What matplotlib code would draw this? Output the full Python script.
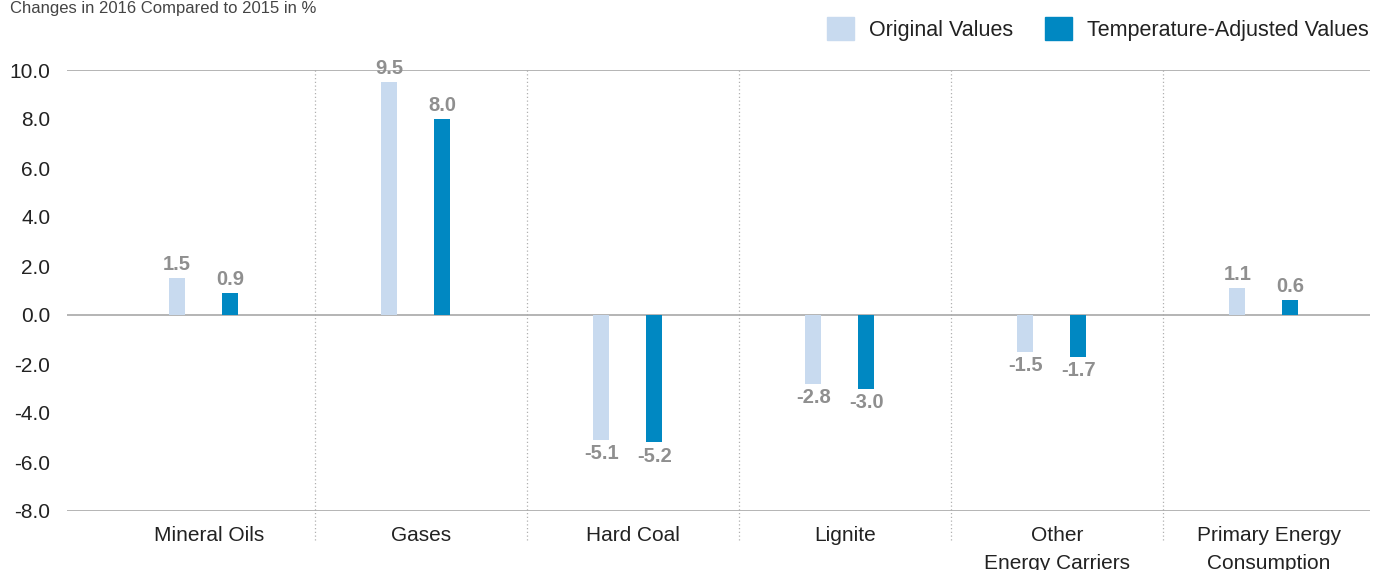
import matplotlib
matplotlib.use("Agg")
import matplotlib.pyplot as plt
import numpy as np

plt.rcParams['font.family'] = ['Liberation Sans', 'DejaVu Sans']

categories = ["Mineral Oils", "Gases", "Hard Coal", "Lignite",
              "Other\nEnergy Carriers", "Primary Energy\nConsumption"]
original_values = [1.5, 9.5, -5.1, -2.8, -1.5, 1.1]
adjusted_values = [0.9, 8.0, -5.2, -3.0, -1.7, 0.6]
series_names = ["Original Values", "Temperature-Adjusted Values"]
y_ticks = [10.0, 8.0, 6.0, 4.0, 2.0, 0.0, -2.0, -4.0, -6.0, -8.0]
title = "Changes in 2016 Compared to 2015 in %"

light_blue = "#c8daef"
dark_blue = "#0088c2"
label_grey = "#8f8f8f"
text_col = "#222222"

fig = plt.figure(figsize=(13.73, 5.70), dpi=100)
ax = fig.add_axes([67 / 1373, 1 - 511 / 570, (1370 - 67) / 1373, (511 - 70) / 570])

x = np.arange(len(categories))
bar_w = 0.075
off_orig = -0.15
off_adj = 0.10

ax.bar(x + off_orig, original_values, width=bar_w, color=light_blue, zorder=3)
ax.bar(x + off_adj, adjusted_values, width=bar_w, color=dark_blue, zorder=3)

# value labels above positive bars, below negative ones
for xs, vals in ((x + off_orig, original_values), (x + off_adj, adjusted_values)):
    for xi, v in zip(xs, vals):
        up = v >= 0
        ax.annotate(f"{v:.1f}", (xi, v), xytext=(0, 3 if up else -3),
                    textcoords="offset points", ha="center",
                    va="bottom" if up else "top", fontsize=14.5,
                    fontweight="bold", color=label_grey)

ax.set_ylim(-8, 10)
ax.set_xlim(-0.67, 5.476)

# horizontal reference lines at top, zero and bottom
for yv in (10, 0, -8):
    ax.axhline(yv, color="#a8a8a8", lw=1.2, zorder=2)

# dotted category dividers
for xd in x[:-1] + 0.5:
    ax.plot([xd, xd], [10, -9.2], color="#b0b0b0", lw=0.9, ls=(0, (1, 2)),
            clip_on=False, zorder=1)

for s in ax.spines.values():
    s.set_visible(False)

ax.set_yticks(y_ticks)
ax.set_yticklabels([f"{t:.1f}" for t in y_ticks], fontsize=15, color=text_col)
ax.tick_params(axis="y", length=0, pad=12)
ax.set_xticks(x)
ax.set_xticklabels(categories, fontsize=15, color=text_col, linespacing=1.55)
ax.tick_params(axis="x", length=0, pad=11)

fig.text(10 / 1373, 1 - 0.5 / 570, title, fontsize=12, color="#444444",
         ha="left", va="top")

# legend
handles = [plt.Rectangle((0, 0), 1, 1, color=light_blue),
           plt.Rectangle((0, 0), 1, 1, color=dark_blue)]
fig.legend(handles, series_names, loc="upper right",
           bbox_to_anchor=(1.0 + 10 / 1373, 1.0 - 3 / 570),
           ncol=2, frameon=False, fontsize=15.5, handlelength=1.25, handleheight=1.25,
           handletextpad=0.7, columnspacing=1.5, labelcolor=text_col,
           borderaxespad=0.35, borderpad=0.3)

fig.savefig("out.png", dpi=100)
